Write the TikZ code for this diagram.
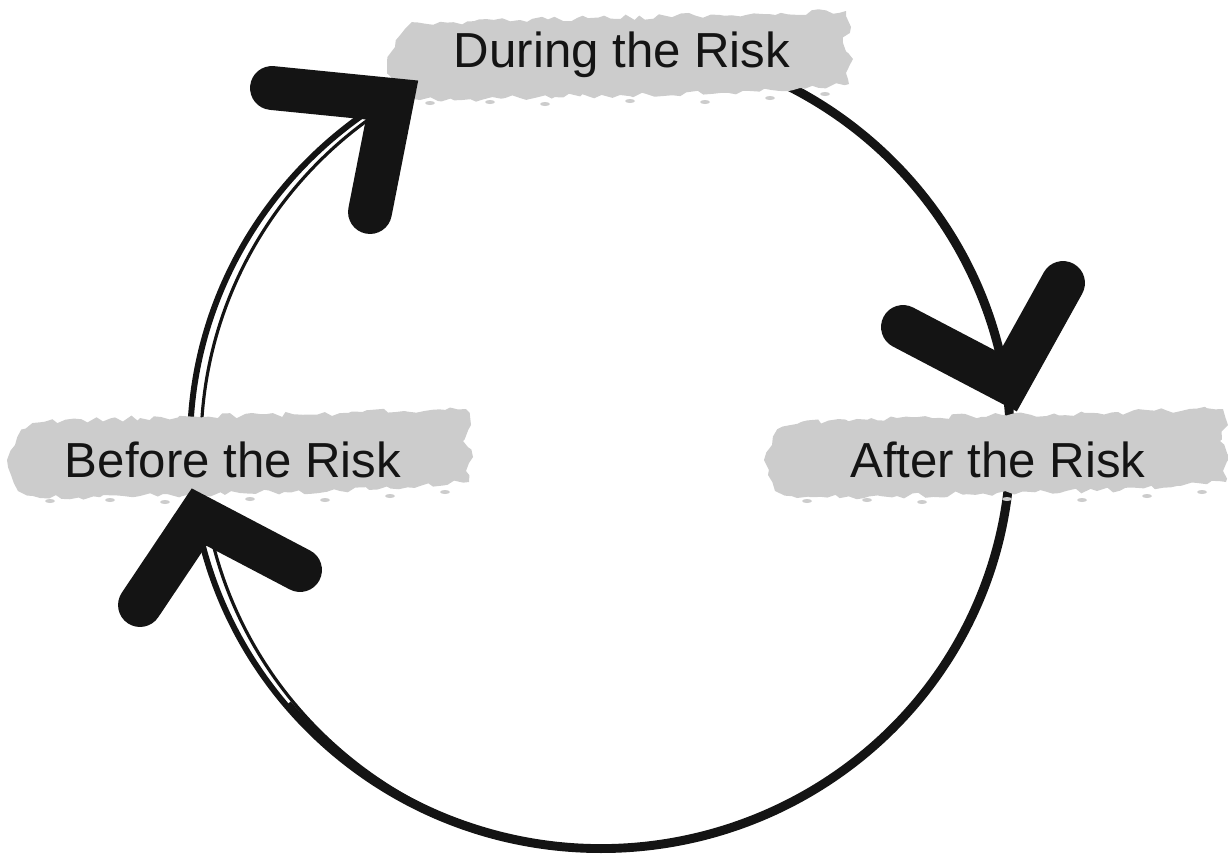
\documentclass[tikz,border=0pt]{standalone}
\usepackage{fontspec}
\setmainfont{Liberation Sans}
\usetikzlibrary{decorations.pathmorphing}
\definecolor{brushgray}{HTML}{CCCCCC}
\definecolor{ink}{HTML}{141414}

\begin{document}
\begin{tikzpicture}[x=0.02cm,y=-0.02cm,
    ring/.style={draw=ink, line width=3.4pt},
    ringthin/.style={draw=ink, line width=1.8pt},
    chevron/.style={draw=ink, line width=25pt, line cap=round, line join=miter},
    lbl/.style={font=\fontsize{28}{32}\selectfont, text=ink, inner sep=0pt},
    brush/.pic={
      \fill[brushgray, decorate, decoration={random steps, segment length=4pt, amplitude=1.6pt}]
        (-225,-10) .. controls (-222,-25) and (-212,-32) .. (-195,-33) -- (-100,-37) -- (100,-42) -- (226,-46)
        -- (231,-30) -- (223,-14) -- (233,2) -- (226,16) -- (229,27)
        -- (180,31) -- (100,36) -- (0,38) -- (-100,41) -- (-200,43) -- (-222,36)
        -- (-229,20) -- (-233,5) -- cycle;
      \foreach \dx/\dy in {-190/46,-130/45,-75/47,10/44,85/45,150/41,205/37}
        \fill[brushgray] (\dx,\dy) ellipse [x radius=5, y radius=2];
    }
]
\pgfmathsetseed{7}
\useasboundingbox (0,0) rectangle (1228,867);

% hand-drawn ring
\draw[ring] (601,445) ellipse [x radius=411, y radius=405];
\draw[ringthin] (606,446) ellipse [x radius=405, y radius=403];
\draw[ring] (601,445) ++(-70:408 and 402) arc [start angle=-70, end angle=140, x radius=408, y radius=402];

% brush strokes
\coordinate (duringc) at (620,57);
\coordinate (beforec) at (240,455);
\coordinate (afterc) at (997,455);
\pic at (duringc) {brush};
\pic at (beforec) {brush};
\pic at (afterc) {brush};

% labels
\node[lbl] (during) at (622,55) {During the Risk};
\node[lbl] (before) at (233,460) {Before the Risk};
\node[lbl] (after) at (998,460) {After the Risk};

% arrowheads
\draw[chevron] (272,88) -- (392,100) -- (370,212);
\draw[chevron] (903,327) -- (1008,382) -- (1063,283);
\draw[chevron] (140,605) -- (199,517) -- (300,570);
\end{tikzpicture}
\end{document}
